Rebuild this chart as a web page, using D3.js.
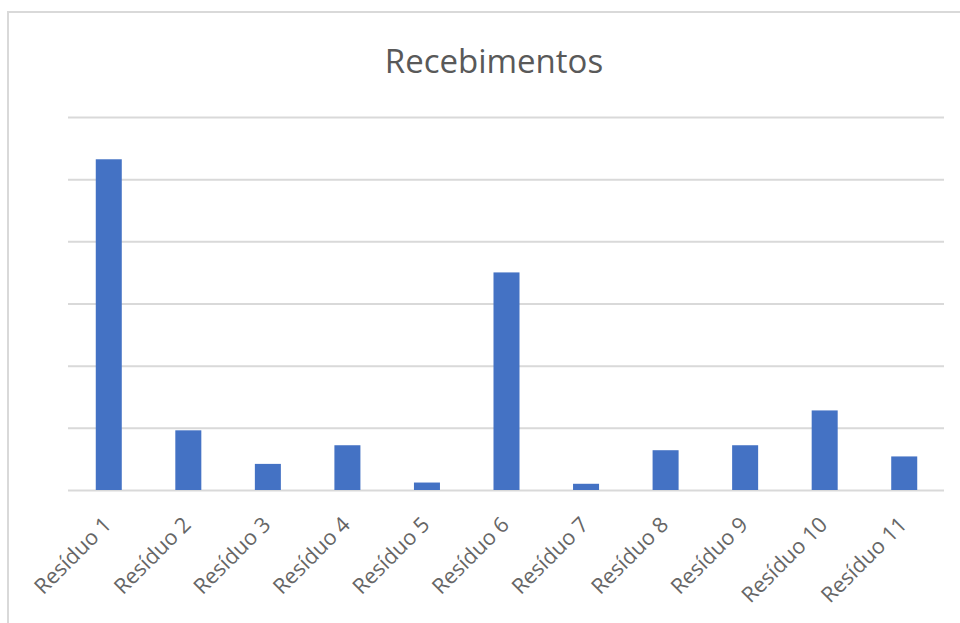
<!DOCTYPE html>
<html>
<head>
<meta charset="utf-8">
<script src="https://cdn.jsdelivr.net/npm/d3@7"></script>
<style>
  html, body { margin: 0; padding: 0; background: #fff; }
  svg { display: block; }
</style>
</head>
<body>
<svg id="chart" width="960" height="623"></svg>
<script>
// Recebimentos por resíduo
const categories = ["Resíduo 1", "Resíduo 2", "Resíduo 3", "Resíduo 4", "Resíduo 5", "Resíduo 6",
                    "Resíduo 7", "Resíduo 8", "Resíduo 9", "Resíduo 10", "Resíduo 11"];
const values = [266, 48, 21, 36, 6, 175, 5, 32, 36, 64, 27];
const gridTicks = [0, 50, 100, 150, 200, 250, 300];
const chartTitle = "Recebimentos";

const W = 960, H = 623;
const plot = { left: 69, right: 944, top: 117, bottom: 490 };
const textColor = "#595959";
const gridColor = "#d9d9d9";
const barColor = "#4472c4";

const svg = d3.select("#chart");

// chart area frame
svg.append("rect")
  .attr("x", 8).attr("y", 12)
  .attr("width", W + 20).attr("height", H + 20)
  .attr("fill", "#fff")
  .attr("stroke", gridColor)
  .attr("stroke-width", 2);

const x = d3.scaleBand()
  .domain(categories)
  .range([plot.left, plot.right])
  .paddingInner(0.673)
  .paddingOuter(0.3365);

const y = d3.scaleLinear()
  .domain([0, 300])
  .range([plot.bottom, plot.top]);

// horizontal gridlines
const yAxis = d3.axisLeft(y)
  .tickValues(gridTicks)
  .tickSize(-(plot.right - plot.left + 1))
  .tickFormat("");
const gy = svg.append("g")
  .attr("transform", `translate(${plot.left - 1},0)`)
  .call(yAxis);
gy.select(".domain").remove();
gy.selectAll(".tick line")
  .attr("stroke", gridColor)
  .attr("stroke-width", 2);

// bars
svg.append("g")
  .selectAll("rect")
  .data(values)
  .join("rect")
  .attr("x", (d, i) => x(categories[i]))
  .attr("y", d => y(d))
  .attr("width", x.bandwidth())
  .attr("height", d => y(0) - y(d))
  .attr("fill", barColor);

// category axis labels, rotated
const xAxis = d3.axisBottom(x).tickSize(0).tickPadding(0);
const gx = svg.append("g")
  .attr("transform", `translate(0,${plot.bottom})`)
  .call(xAxis);
gx.select(".domain").remove();
gx.selectAll(".tick text")
  .attr("font-family", "'Open Sans', sans-serif")
  .attr("font-size", 21.5)
  .attr("fill", "#666")
  .attr("text-anchor", "end")
  .attr("dy", null)
  .attr("y", null)
  .attr("transform", "translate(4,36) rotate(-45)");

// title
svg.append("text")
  .attr("x", 494)
  .attr("y", 73)
  .attr("text-anchor", "middle")
  .attr("font-family", "'Open Sans', sans-serif")
  .attr("font-size", 33)
  .attr("fill", textColor)
  .text(chartTitle);
</script>
</body>
</html>
